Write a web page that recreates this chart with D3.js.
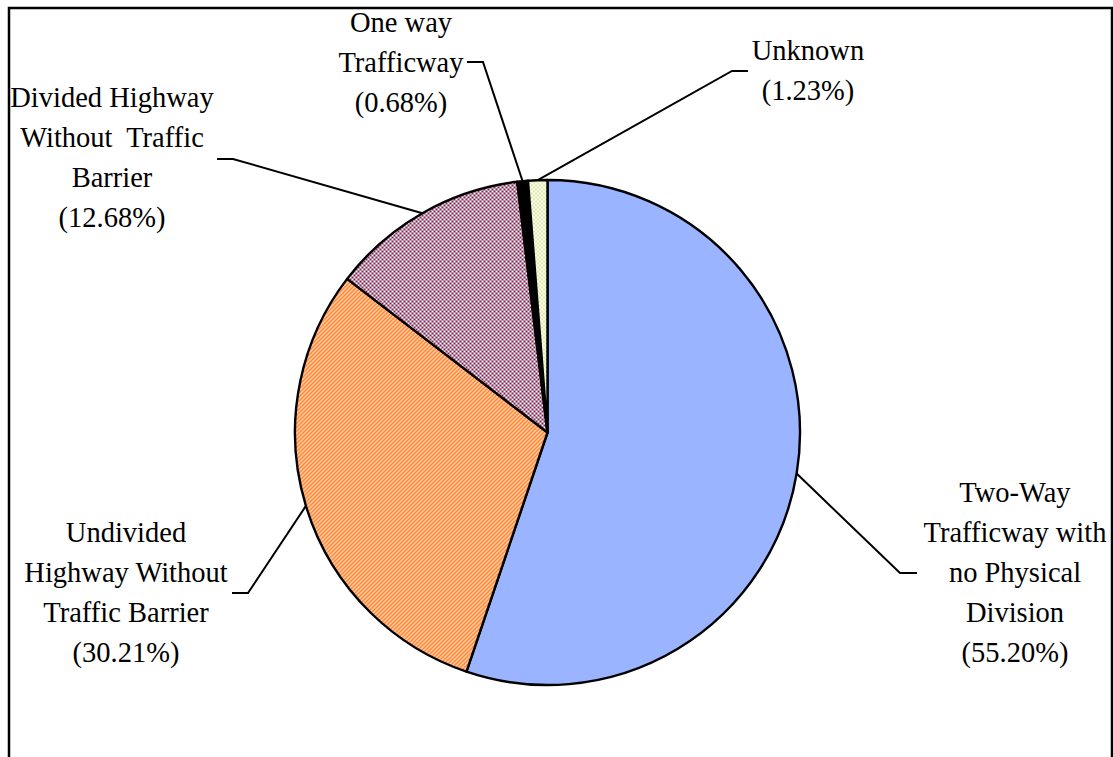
<!DOCTYPE html>
<html>
<head>
<meta charset="utf-8">
<script src="https://cdn.jsdelivr.net/npm/d3@7"></script>
<style>
  body { margin: 0; background: #fff; }
</style>
</head>
<body>
<div id="chart"></div>
<script>
// data
var categories = ["Two-Way Trafficway with no Physical Division",
                  "Undivided Highway Without Traffic Barrier",
                  "Divided Highway Without Traffic Barrier",
                  "One way Trafficway",
                  "Unknown"];
var shares = [55.20, 30.21, 12.68, 0.68, 1.23];
var labelLines = [
  ["Two-Way", "Trafficway with", "no Physical", "Division"],
  ["Undivided", "Highway Without", "Traffic Barrier"],
  ["Divided Highway", "Without  Traffic", "Barrier"],
  ["One way", "Trafficway"],
  ["Unknown"]
];

// layout of the label blocks: centre x, first baseline, leader elbow and end
var labelLayout = [
  {x: 1015, y: 502, elbow: [900, 573], end: [917, 573]},
  {x: 126,  y: 542, elbow: [248, 593], end: [232, 593]},
  {x: 112,  y: 107, elbow: [233, 159], end: [217, 159]},
  {x: 401,  y: 32,  elbow: [483, 62],  end: [467, 62]},
  {x: 808,  y: 60,  elbow: [732, 71],  end: [748, 71]}
];
var fills = ["#9bb4ff", "url(#hatch)", "url(#checker)", "#000", "url(#dots)"];

var W = 1113, H = 757,
    cx = 547.5, cy = 432.5, r = 252.5,
    lineGap = 40;

var svg = d3.select("#chart").append("svg")
  .attr("width", W)
  .attr("height", H)
  .attr("font-family", "'Liberation Serif', 'Times New Roman', Times, serif");

var defs = svg.append("defs");

var hatch = defs.append("pattern")
  .attr("id", "hatch").attr("patternUnits", "userSpaceOnUse")
  .attr("width", 4).attr("height", 4);
hatch.append("rect").attr("width", 4).attr("height", 4).attr("fill", "#fff");
hatch.append("path")
  .attr("d", "M-1,1 l2,-2 M0,4 l4,-4 M3,5 l2,-2")
  .attr("stroke", "#ff7410").attr("stroke-width", 1.7);

var checker = defs.append("pattern")
  .attr("id", "checker").attr("patternUnits", "userSpaceOnUse")
  .attr("width", 4).attr("height", 4);
checker.append("rect").attr("width", 4).attr("height", 4).attr("fill", "#fff");
checker.append("rect").attr("width", 2).attr("height", 2).attr("fill", "#7e1f50");
checker.append("rect").attr("x", 2).attr("y", 2).attr("width", 2).attr("height", 2).attr("fill", "#7e1f50");

var dots = defs.append("pattern")
  .attr("id", "dots").attr("patternUnits", "userSpaceOnUse")
  .attr("width", 4).attr("height", 4);
dots.append("rect").attr("width", 4).attr("height", 4).attr("fill", "#fff");
dots.append("rect").attr("x", 0).attr("y", 0).attr("width", 1).attr("height", 2).attr("fill", "#bcd43c");
dots.append("rect").attr("x", 2).attr("y", 2).attr("width", 1).attr("height", 2).attr("fill", "#bcd43c");

// frame
svg.append("path")
  .attr("d", "M9," + (H + 5) + " V8 H1112 V" + (H + 5))
  .attr("fill", "none")
  .attr("stroke", "#000")
  .attr("stroke-width", 2.5);

var pie = d3.pie().sort(null).value(function(d) { return d; });
var arcs = pie(shares);

var arc = d3.arc().innerRadius(0).outerRadius(r);
var edge = d3.arc().innerRadius(r).outerRadius(r);

var g = svg.append("g")
  .attr("transform", "translate(" + cx + "," + cy + ")");

g.selectAll(".slice")
  .data(arcs)
  .enter().append("path")
    .attr("class", "slice")
    .attr("d", arc)
    .attr("fill", function(d, i) { return fills[i]; })
    .attr("stroke", "#000")
    .attr("stroke-width", 2.4)
    .attr("stroke-linejoin", "round");

// leader lines
svg.selectAll(".leader")
  .data(arcs)
  .enter().append("polyline")
    .attr("class", "leader")
    .attr("fill", "none")
    .attr("stroke", "#000")
    .attr("stroke-width", 2)
    .attr("points", function(d, i) {
      var p = edge.centroid(d), L = labelLayout[i];
      return [[p[0] + cx, p[1] + cy], L.elbow, L.end].map(function(q) { return q.join(","); }).join(" ");
    });

// labels
var labels = svg.selectAll(".label")
  .data(arcs)
  .enter().append("text")
    .attr("class", "label")
    .attr("text-anchor", "middle")
    .attr("font-size", 28.5)
    .attr("fill", "#000");

labels.each(function(d, i) {
  var L = labelLayout[i];
  var lines = labelLines[i].concat(["(" + shares[i].toFixed(2) + "%)"]);
  d3.select(this).selectAll("tspan")
    .data(lines)
    .enter().append("tspan")
      .attr("x", L.x)
      .attr("y", function(t, k) { return L.y + k * lineGap; })
      .attr("xml:space", "preserve")
      .style("white-space", "pre")
      .text(function(t) { return t; });
});
</script>
</body>
</html>
